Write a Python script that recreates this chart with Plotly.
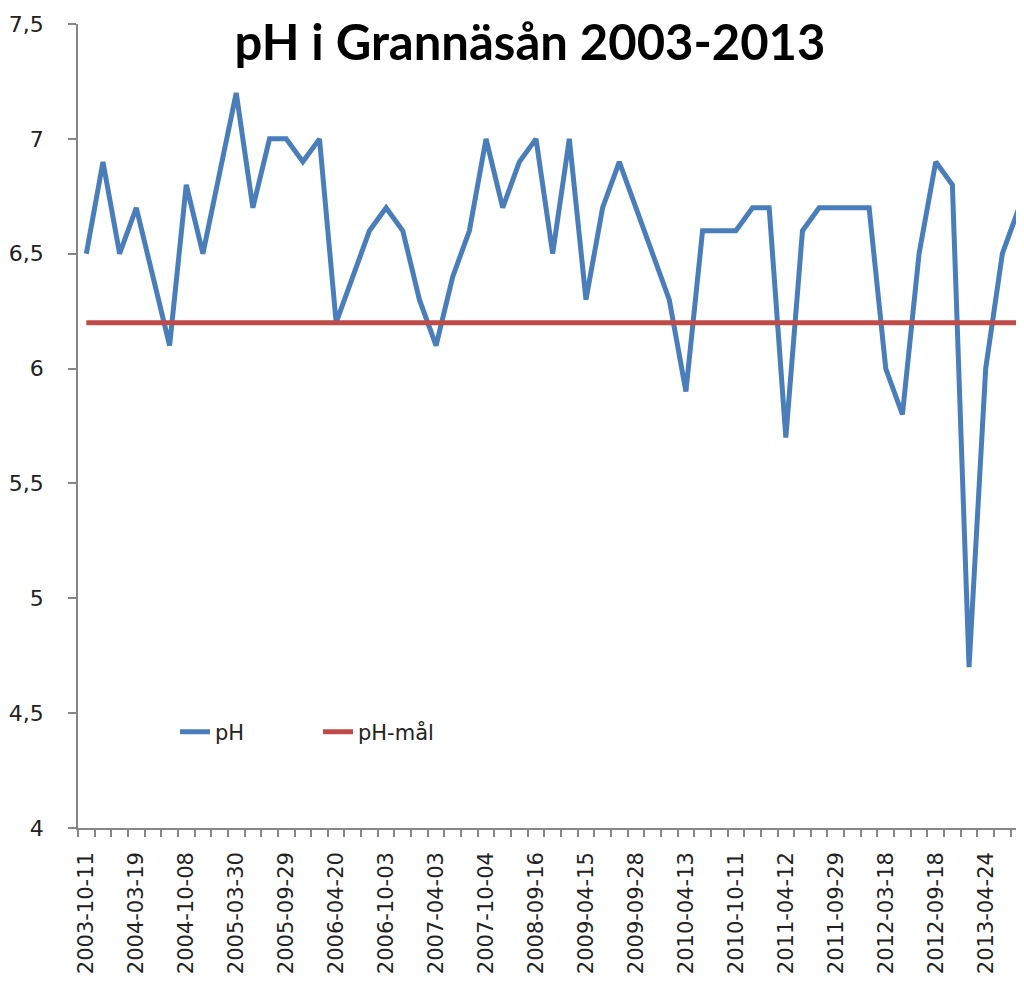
import plotly.graph_objects as go

# ---- data ----
ph_values = [6.5, 6.9, 6.5, 6.7, 6.4, 6.1, 6.8, 6.5, 6.85, 7.2,
             6.7, 7.0, 7.0, 6.9, 7.0, 6.2, 6.4, 6.6, 6.7, 6.6,
             6.3, 6.1, 6.4, 6.6, 7.0, 6.7, 6.9, 7.0, 6.5, 7.0,
             6.3, 6.7, 6.9, 6.7, 6.5, 6.3, 5.9, 6.6, 6.6, 6.6,
             6.7, 6.7, 5.7, 6.6, 6.7, 6.7, 6.7, 6.7, 6.0, 5.8,
             6.5, 6.9, 6.8, 4.7, 6.0, 6.5, 6.7]
ph_target = 6.2
tick_labels = ["2003-10-11", "2004-03-19", "2004-10-08", "2005-03-30",
               "2005-09-29", "2006-04-20", "2006-10-03", "2007-04-03",
               "2007-10-04", "2008-09-16", "2009-04-15", "2009-09-28",
               "2010-04-13", "2010-10-11", "2011-04-12", "2011-09-29",
               "2012-03-18", "2012-09-18", "2013-04-24"]
label_step = 3

n = len(ph_values)
x_idx = list(range(n))
tick_pos = list(range(0, n, label_step))[:len(tick_labels)]

BLUE = "#4A7EBB"
RED = "#BE4B48"
AXIS = "#868686"
YFONT = dict(family="DejaVu Sans", size=22, color="#222222")
XFONT = dict(family="DejaVu Sans", size=21, color="#222222")

fig = go.Figure()
fig.add_trace(go.Scatter(x=x_idx, y=ph_values, mode="lines", name="pH",
                         line=dict(color=BLUE, width=5)))
fig.add_trace(go.Scatter(x=x_idx, y=[ph_target] * n, mode="lines", name="pH-mål",
                         line=dict(color=RED, width=5)))

# page body adds an 8px offset; margins compensate so the plot lands where the reference has it
fig.update_layout(
    width=1024, height=984,
    margin=dict(l=70, r=8, t=16, b=164),
    paper_bgcolor="white", plot_bgcolor="white",
    separators=", ",
    title=dict(text="<b>pH i Grannäsån 2003-2013</b>",
               font=dict(family="Lato", size=49, color="#000000"),
               x=522 / 1024, xanchor="center", xref="container",
               y=1 - 35 / 984, yanchor="middle", yref="container"),
    showlegend=True,
    legend=dict(orientation="h", x=97 / 946, y=96 / 804,
                xanchor="left", yanchor="middle",
                bgcolor="rgba(0,0,0,0)",
                font=dict(family="DejaVu Sans", size=21, color="#222222"),
                entrywidth=98, entrywidthmode="pixels"),
)

fig.update_xaxes(
    range=[-0.5, 56.3], automargin=False,
    tickmode="array", tickvals=tick_pos, ticktext=tick_labels,
    tickangle=-90, ticks="", ticklabelstandoff=14,
    tickfont=XFONT,
    showline=True, linecolor=AXIS, linewidth=1.5,
    showgrid=False, zeroline=False,
    minor=dict(tickmode="linear", tick0=-0.5, dtick=1, ticks="outside",
               ticklen=7, tickcolor=AXIS, tickwidth=1.5, showgrid=False),
)
fig.update_yaxes(
    range=[4, 7.5], tickmode="linear", tick0=4, dtick=0.5, automargin=False,
    ticks="outside", ticklen=8, tickcolor=AXIS, tickwidth=1.5,
    ticklabelstandoff=20, tickfont=YFONT,
    showline=True, linecolor=AXIS, linewidth=1.5,
    showgrid=False, zeroline=False,
)

fig.write_html("out.html")
